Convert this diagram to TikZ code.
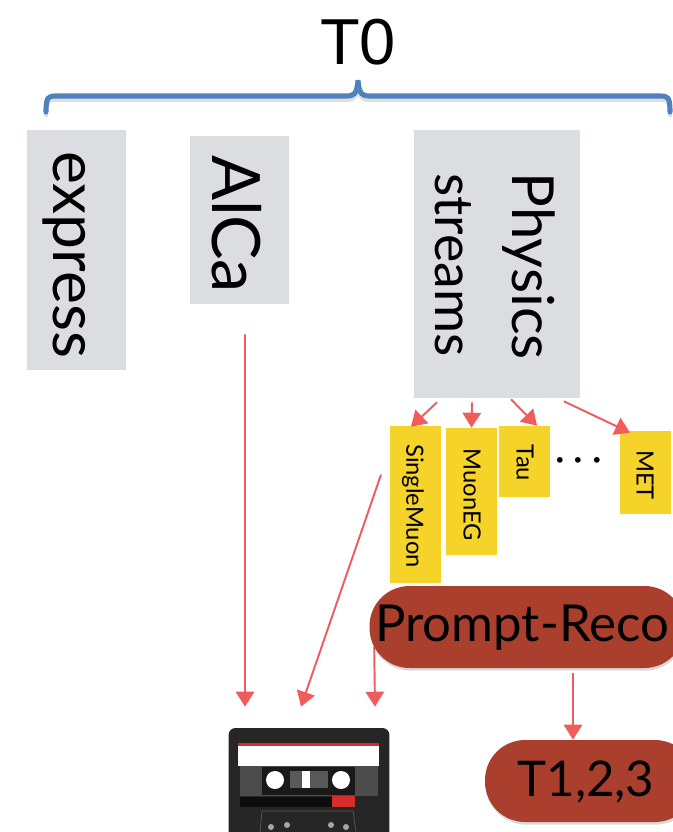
\documentclass[tikz,border=0pt]{standalone}
\usepackage{fontspec}
\setmainfont{Lato}
\newfontfamily\arialfont{Liberation Sans}
\usetikzlibrary{arrows.meta, positioning, calc, shadows}
\definecolor{streamgrey}{RGB}{220,221,224}
\definecolor{pdyellow}{RGB}{245,211,40}
\definecolor{brick}{RGB}{170,63,45}
\definecolor{softred}{RGB}{238,92,92}
\definecolor{braceblue}{RGB}{79,129,189}
\definecolor{tapered}{RGB}{214,45,40}
\tikzset{
  streambox/.style={fill=streamgrey, inner sep=0pt},
  pdbox/.style={fill=pdyellow, inner sep=0pt, minimum width=1.02cm},
  sidelabel/.style={rotate=-90, inner sep=0pt},
  recopill/.style={fill=brick, rounded corners=0.8cm, inner sep=0pt, minimum height=1.64cm,
    drop shadow={shadow xshift=0.5pt, shadow yshift=-1.5pt, opacity=0.3}},
  recolabel/.style={inner sep=0pt},
  flow/.style={-{Triangle[length=8.5pt, width=10.5pt]}, softred, line width=1.1pt},
}
\begin{document}
\begin{tikzpicture}[x=0.02cm, y=-0.02cm]
  \useasboundingbox (0,0) rectangle (673,832);
  \clip (0,0) rectangle (673,832);
  % title and brace
  \node[font=\arialfont\fontsize{37}{40}\selectfont, inner sep=0pt] (tzero) at (358,42) {T0};
  \draw[gray!25, line width=2.2pt, line cap=round] (46,116) .. controls (46,101) and (48,100) .. (56,100) -- (347,100)
    .. controls (353,100) and (357,99) .. (358,84) .. controls (359,99) and (363,100) .. (369,100)
    -- (660,100) .. controls (668,100) and (670,101) .. (670,116);
  \draw[braceblue, line width=2.9pt, line cap=round] (46,112) .. controls (46,97) and (48,96) .. (56,96) -- (347,96)
    .. controls (353,96) and (357,95) .. (358,80) .. controls (359,95) and (363,96) .. (369,96)
    -- (660,96) .. controls (668,96) and (670,97) .. (670,112);
  % stream boxes
  \node[streambox, minimum width=1.98cm, minimum height=4.8cm] (express) at (76.5,250) {};
  \node[streambox, minimum width=1.98cm, minimum height=3.36cm] (alca) at (239.5,220) {};
  \node[streambox, minimum width=3.32cm, minimum height=5.36cm] (physics) at (497,264) {};
  \node[sidelabel, font=\fontsize{35.5}{38}\selectfont] (expresstext) at (64,254.5) {express};
  \node[sidelabel, font=\fontsize{38}{40}\selectfont] (alcatext) at (237,224) {AlCa};
  \node[sidelabel, font=\fontsize{33}{36}\selectfont] (physicstext) at (529,266) {Physics};
  \node[sidelabel, font=\fontsize{30.5}{33}\selectfont] (streamstext) at (453,265) {streams};
  % primary datasets
  \node[pdbox, minimum height=3.14cm] (singlemuon) at (415.5,504.5) {};
  \node[pdbox, minimum height=2.54cm] (muoneg) at (471.5,491.5) {};
  \node[pdbox, minimum height=1.42cm] (tau) at (524.5,461.5) {};
  \node[pdbox, minimum height=1.66cm] (met) at (645.5,472.5) {};
  \node[sidelabel, font=\fontsize{13.5}{15}\selectfont] (singlemuontext) at (413,506) {SingleMuon};
  \node[sidelabel, font=\fontsize{13.5}{15}\selectfont] (muonegtext) at (472,495) {MuonEG};
  \node[sidelabel, font=\fontsize{13.5}{15}\selectfont] (tautext) at (525,463) {Tau};
  \node[sidelabel, font=\fontsize{13.5}{15}\selectfont] (mettext) at (645,475) {MET};
  \node[font=\fontsize{22}{24}\selectfont\boldmath, inner sep=0pt] (dots) at (578.5,461) {$\cdots$};
  % reco
  \node[recopill, minimum width=6.3cm] (prompt) at (527,627) {};
  \node[recopill, minimum width=4.2cm] (tier) at (590,781) {};
  \node[recolabel, font=\fontsize{29}{32}\selectfont] (prompttext) at (522,628) {Prompt-Reco};
  \node[recolabel, font=\fontsize{28}{32}\selectfont] (tiertext) at (586,782) {T1,2,3};
  % tape
  \node[fill=black!85, rounded corners=4pt, minimum width=3.22cm, minimum height=2.6cm, inner sep=0pt] (tape) at (309,793) {};
  \fill[white] (238,743) rectangle (379,766);
  \fill[tapered] (238,743) rectangle (379,746);
  \fill[black!70] (240,766) rectangle (378,796);
  \fill[black!90] (262,767) rectangle (355,795);
  \fill[black!65] (290,771) rectangle (328,788);
  \fill[white] (302,771) rectangle (310,788);
  \fill[white] (275,780) circle (9);
  \fill[white] (341,780) circle (9);
  \fill[black!95] (240,797) rectangle (332,807);
  \fill[tapered] (332,796) rectangle (355,807);
  \draw[black!65] (260,832) -- (262,811) -- (353,811) -- (356,832);
  \foreach \sx/\sy in {271/827, 287/825, 331/825, 346/827}
    \fill[black!35] (\sx,\sy) circle (3);
  % arrows
  \draw[flow] ([shift={(5.5,30)}]alca.south) -- ([shift={(-64,-21)}]tape.north);
  \draw[flow] ([shift={(-34.5,49)}]singlemuon.north) -- ([shift={(-8,-21)}]tape.north);
  \draw[flow] ([shift={(5,20)}]prompt.west) -- ([shift={(66,-21)}]tape.north);
  \draw[flow] ([shift={(46,5)}]prompt.south) -- ([shift={(-17,0)}]tier.north);
  \draw[flow] ([shift={(-60,4)}]physics.south) -- ([shift={(-4.5,1)}]singlemuon.north);
  \draw[flow] ([shift={(-25,4)}]physics.south) -- (muoneg.north);
  \draw[flow] ([shift={(14,1)}]physics.south) -- ([shift={(12.5,0)}]tau.north);
  \draw[flow] ([shift={(67,3)}]physics.south) -- ([shift={(-15.5,2)}]met.north);
\end{tikzpicture}
\end{document}
